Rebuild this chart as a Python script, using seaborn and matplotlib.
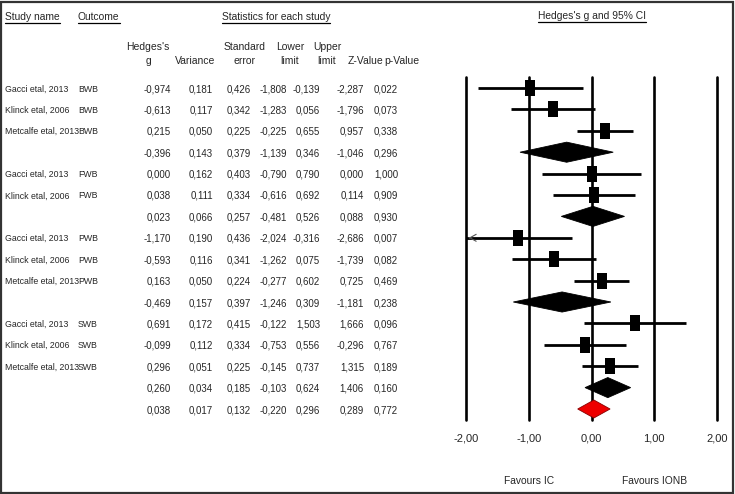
import numpy as np
import pandas as pd
import matplotlib
matplotlib.use("Agg")
import matplotlib.pyplot as plt
import matplotlib.transforms as mtransforms
from matplotlib import font_manager
from matplotlib.patches import Polygon, Rectangle
from matplotlib.lines import Line2D
import seaborn as sns

# --- data ---
study = ["Gacci etal, 2013", "Klinck etal, 2006", "Metcalfe etal, 2013", "",
         "Gacci etal, 2013", "Klinck etal, 2006", "",
         "Gacci etal, 2013", "Klinck etal, 2006", "Metcalfe etal, 2013", "",
         "Gacci etal, 2013", "Klinck etal, 2006", "Metcalfe etal, 2013", "", ""]
outcome = ["BWB", "BWB", "BWB", "", "FWB", "FWB", "", "PWB", "PWB", "PWB", "",
           "SWB", "SWB", "SWB", "", ""]
# row kind: study / subgroup summary / overall summary
kind = ["s", "s", "s", "sub", "s", "s", "sub", "s", "s", "s", "sub",
        "s", "s", "s", "sub", "all"]
hedges_g = [-0.974, -0.613, 0.215, -0.396, 0.000, 0.038, 0.023, -1.170, -0.593, 0.163,
            -0.469, 0.691, -0.099, 0.296, 0.260, 0.038]
variance = [0.181, 0.117, 0.050, 0.143, 0.162, 0.111, 0.066, 0.190, 0.116, 0.050,
            0.157, 0.172, 0.112, 0.051, 0.034, 0.017]
std_err = [0.426, 0.342, 0.225, 0.379, 0.403, 0.334, 0.257, 0.436, 0.341, 0.224,
           0.397, 0.415, 0.334, 0.225, 0.185, 0.132]
lower = [-1.808, -1.283, -0.225, -1.139, -0.790, -0.616, -0.481, -2.024, -1.262, -0.277,
         -1.246, -0.122, -0.753, -0.145, -0.103, -0.220]
upper = [-0.139, 0.056, 0.655, 0.346, 0.790, 0.692, 0.526, -0.316, 0.075, 0.602,
         0.309, 1.503, 0.556, 0.737, 0.624, 0.296]
z_value = [-2.287, -1.796, 0.957, -1.046, 0.000, 0.114, 0.088, -2.686, -1.739, 0.725,
           -1.181, 1.666, -0.296, 1.315, 1.406, 0.289]
p_value = [0.022, 0.073, 0.338, 0.296, 1.000, 0.909, 0.930, 0.007, 0.082, 0.469,
           0.238, 0.096, 0.767, 0.189, 0.160, 0.772]
x_ticks = [-2, -1, 0, 1, 2]
x_tick_labels = ["-2,00", "-1,00", "0,00", "1,00", "2,00"]

df = pd.DataFrame({"study": study, "outcome": outcome, "kind": kind, "g": hedges_g,
                   "var": variance, "se": std_err, "lo": lower, "hi": upper,
                   "z": z_value, "p": p_value})
df["row"] = np.arange(len(df))


def fmt(v):
    return f"{v:.3f}".replace(".", ",")


sns.set_style("white")
plt.rcParams["font.family"] = ["Liberation Sans", "DejaVu Sans"]

# a narrow face for the study names if one is installed
installed = {f.name for f in font_manager.fontManager.ttflist}
if "Liberation Sans Narrow" in installed:
    name_font, name_size = ["Liberation Sans Narrow"], 7.3
else:
    name_font, name_size = ["Liberation Sans", "DejaVu Sans"], 6.3

W, H = 735, 494
fig = plt.figure(figsize=(W / 100, H / 100), dpi=100)
fig.patch.set_facecolor("white")

# forest plot axes: x -2..2 -> px 466..717, rows -> px 88..409
y_top, y_bot = 77.3, 419.7
ax = fig.add_axes([466 / W, 1 - y_bot / H, (717 - 466) / W, (y_bot - y_top) / H])
ax.set_xlim(-2, 2)
ax.set_ylim(len(df) - 0.5, -0.5)
for s in ax.spines.values():
    s.set_visible(False)
ax.set_yticks([])
ax.set_xticks(x_ticks)
ax.set_xticklabels(x_tick_labels, fontsize=8)
ax.tick_params(axis="x", length=0, pad=10)
for t in x_ticks:
    ax.axvline(t, color="black", lw=1.9, zorder=1, clip_on=False)

# study rows: CI lines + boxes
st = df[df["kind"] == "s"]
ax.hlines(st["row"], st["lo"].clip(lower=-2), st["hi"].clip(upper=2),
          color="black", lw=2.0, zorder=2)
box = [(-0.3, -0.5), (0.3, -0.5), (0.3, 0.5), (-0.3, 0.5)]
sns.scatterplot(data=st, x="g", y="row", marker=box, s=145, color="black",
                edgecolor="black", linewidth=0, ax=ax, zorder=3, legend=False)
# arrow where CI runs past the axis
for _, r in st[st["lo"] < -2].iterrows():
    ax.annotate("", xy=(-2, r["row"]), xytext=(-1.9, r["row"]),
                arrowprops=dict(arrowstyle="->,head_width=0.25,head_length=0.45",
                                color="#555555", lw=0.8))

# summary diamonds
for _, r in df[df["kind"] != "s"].iterrows():
    h = 0.47 if r["kind"] == "sub" else 0.42
    fc = "black" if r["kind"] == "sub" else "#ee0000"
    ec = "black" if r["kind"] == "sub" else "#880000"
    ax.add_patch(Polygon([(r["lo"], r["row"]), (r["g"], r["row"] - h),
                          (r["hi"], r["row"]), (r["g"], r["row"] + h)],
                         closed=True, facecolor=fc, edgecolor=ec, lw=0.6, zorder=4))

ax.set_xlabel("")
ax.set_ylabel("")

# favours labels
tr_xfig = mtransforms.blended_transform_factory(ax.transData, fig.transFigure)
ax.text(-1, 1 - 481 / H, "Favours IC", transform=tr_xfig, ha="center", va="center",
        fontsize=7.4)
ax.text(1, 1 - 481 / H, "Favours IONB", transform=tr_xfig, ha="center", va="center",
        fontsize=7.4)

# table text, rows aligned with the plot rows
tr_row = mtransforms.blended_transform_factory(fig.transFigure, ax.transData)
cols = [("g", 171), ("var", 213), ("se", 251), ("lo", 287), ("hi", 320), ("z", 364), ("p", 398)]
for _, r in df.iterrows():
    fig.text(5 / W, r["row"], r["study"], transform=tr_row, ha="left",
             va="center_baseline", fontsize=name_size, family=name_font)
    fig.text(78 / W, r["row"], r["outcome"], transform=tr_row, ha="left",
             va="center_baseline", fontsize=name_size, family=name_font)
    for c, xp in cols:
        fig.text(xp / W, r["row"], fmt(r[c]), transform=tr_row, ha="right",
                 va="center_baseline", fontsize=7)

# column headers
headers = [("Hedges's\ng", 148), ("\nVariance", 195), ("Standard\nerror", 245),
           ("Lower\nlimit", 290), ("Upper\nlimit", 327), ("\nZ-Value", 366), ("\np-Value", 402)]
for txt, xp in headers:
    fig.text(xp / W, 1 - 54 / H, txt, ha="center", va="center", fontsize=7.5,
             linespacing=1.6)

# underlined section titles
titles = [("Study name", 5, "left", 17), ("Outcome", 78, "left", 17),
          ("Statistics for each study", 276, "center", 17),
          ("Hedges's g and 95% CI", 592, "center", 16)]
title_objs = []
for txt, xp, ha, yp in titles:
    title_objs.append(fig.text(xp / W, 1 - yp / H, txt, ha=ha, va="center", fontsize=7.4))

fig.canvas.draw()
renderer = fig.canvas.get_renderer()
for t in title_objs:
    bb = t.get_window_extent(renderer).transformed(fig.transFigure.inverted())
    fig.add_artist(Line2D([bb.x0, bb.x1], [bb.y0 - 1 / H, bb.y0 - 1 / H],
                          transform=fig.transFigure, color="black", lw=0.9))

# outer frame
fig.add_artist(Rectangle((1 / W, 1 / H), 1 - 3 / W, 1 - 3 / H, transform=fig.transFigure,
                         fill=False, edgecolor="#333333", lw=1.6))

fig.savefig("out.png", dpi=100, facecolor="white")
